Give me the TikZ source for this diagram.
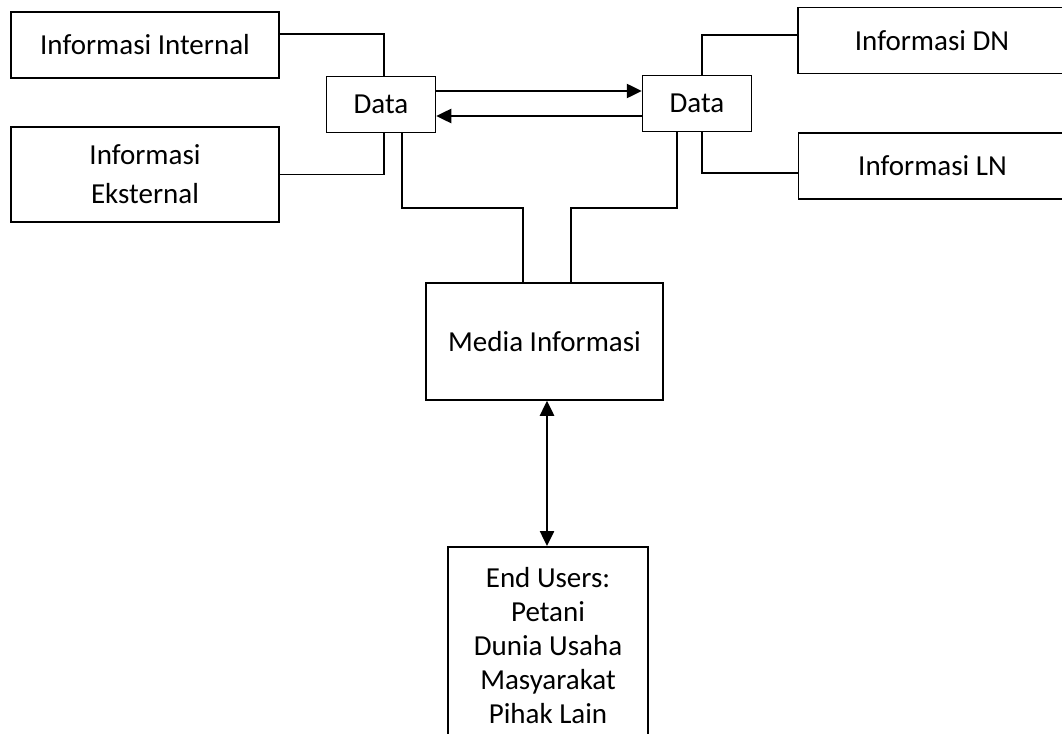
\documentclass[tikz,border=0pt]{standalone}
\usepackage{fontspec}
\setmainfont{Carlito}
\usetikzlibrary{arrows.meta}
\begin{document}
\begin{tikzpicture}[x=1pt, y=-1pt]
    % Define plain box and line styles
    \tikzset{
        box/.style={
            draw=black,
            line width=1.5pt,
            minimum width=268pt,
            minimum height=66pt,
            align=center,
            font=\fontsize{29}{35}\selectfont,
            inner sep=0pt
        },
        databox/.style={
            box,
            minimum width=109pt,
            minimum height=56pt
        },
        link/.style={
            draw=black,
            line width=1.3pt
        },
        arrow/.style={
            ->,
            >={Triangle[length=15pt, width=14pt]},
            line width=2.5pt
        }
    }

    % Page frame
    \useasboundingbox (0,0) rectangle (1062,733);
    \clip (0,0) rectangle (1062,733);

    % Sources on the left
    \node[box] (intern) at (145, 45) {Informasi Internal};
    \node[box, minimum height=95pt, font=\fontsize{29}{39}\selectfont] (ekstern) at (145, 174.5) {Informasi\\Eksternal};

    % Data nodes
    \node[databox] (dataL) at (381, 104.5) {Data};
    \node[databox] (dataR) at (697, 103.5) {Data};

    % Sources on the right
    \node[box] (dn) at (932, 40.5) {Informasi DN};
    \node[box] (ln) at (932.5, 166) {Informasi LN};

    % Media and users
    \node[box, minimum width=237pt, minimum height=117pt] (media) at (544.5, 341.5) {Media Informasi};
    \node[box, minimum width=200pt, anchor=north, inner ysep=21pt, font=\fontsize{29}{34}\selectfont] (users) at (548, 546) {End Users:\\Petani\\Dunia Usaha\\Masyarakat\\Pihak Lain};

    % Bend points above the media box
    \coordinate (jl) at (523, 208);
    \coordinate (jr) at (571, 208);

    % Source connections
    \draw[link] ([yshift=11pt]intern.east) -| ([xshift=3pt]dataL.north);
    \draw[link] (ekstern.east) -| ([xshift=3pt]dataL.south);
    \draw[link] ([xshift=5pt]dataR.north) |- ([yshift=5.5pt]dn.west);
    \draw[link] ([xshift=5pt]dataR.south) |- ([yshift=-7pt]ln.west);

    % Data to media
    \draw[link] ([xshift=21pt]dataL.south) |- (jl) -- (jl |- media.north);
    \draw[link] ([xshift=-20pt]dataR.south) |- (jr) -- (jr |- media.north);

    % Exchange between data nodes
    \draw[arrow] ([yshift=13.5pt]dataL.east) -- ([yshift=13.5pt]dataL.east -| dataR.west);
    \draw[arrow] ([yshift=-11.5pt]dataL.east -| dataR.west) -- ([yshift=-11.5pt]dataL.east);

    % Media to end users
    \draw[arrow, <->] ([xshift=2.5pt]media.south) -- ([xshift=2.5pt]media.south |- users.north);

\end{tikzpicture}
\end{document}
